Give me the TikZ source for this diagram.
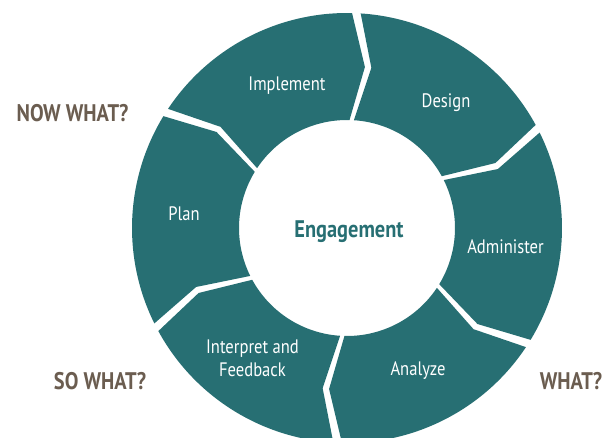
\documentclass[tikz,border=0pt]{standalone}
\usepackage{fontspec}
\setmainfont{PT Sans}
\newfontfamily\stagefont[FakeStretch=0.85]{PT Sans}
\newfontfamily\askfont[FakeStretch=0.85]{PT Sans}
\definecolor{ringteal}{RGB}{39,111,115}
\definecolor{askbrown}{RGB}{107,93,80}

\begin{document}
\begin{tikzpicture}[
  segment/.style={fill=ringteal},
  stagelabel/.style={anchor=base, text=white, align=center, font=\stagefont\fontsize{19.5bp}{22.7bp}\selectfont},
  asklabel/.style={anchor=base, text=askbrown, font=\askfont\bfseries\fontsize{24bp}{27bp}\selectfont},
  hublabel/.style={anchor=base, text=ringteal, font=\askfont\bfseries\fontsize{24bp}{27bp}\selectfont}
]
\useasboundingbox (-347bp,-210bp) rectangle (258bp,228bp);

\def\Ro{215bp}  % outer radius
\def\Ri{108bp}  % inner radius
\def\Rm{162bp}  % chevron bend radius
\def\h{1.15}    % half gap
\def\b{-5}      % chevron shift

% Ring segments, clockwise from the top
\foreach \g/\name/\pos/\txt in {147.5/implement/{-60bp,137.5bp}/Implement,
    87.5/design/{99bp,120bp}/Design,
    27.5/administer/{158.5bp,-25.3bp}/Administer,
    -32.5/analyze/{71bp,-147bp}/Analyze,
    -92.5/interpret/{-94.5bp,-148.5bp}/{Interpret and\\Feedback},
    -152.5/plan/{-163bp,8bp}/Plan} {
  \fill[segment] (\g-\h:\Ro)
    arc[start angle=\g-\h, end angle=\g-60+\h, radius=\Ro]
    -- (\g-60+\h+\b:\Rm) -- (\g-60+\h:\Ri)
    arc[start angle=\g-60+\h, end angle=\g-\h, radius=\Ri]
    -- (\g-\h+\b:\Rm) -- cycle;
  \node[stagelabel] (\name) at (\pos) {\txt};
}

% Hub
\node[hublabel] (hub) at (2bp,-9bp) {Engagement};

% Questions
\node[asklabel] (nowwhat) at (-274.5bp,106bp) {NOW WHAT?};
\node[asklabel] (sowhat) at (-247bp,-161bp) {SO WHAT?};
\node[asklabel] (what) at (224bp,-161bp) {WHAT?};

\end{tikzpicture}
\end{document}
